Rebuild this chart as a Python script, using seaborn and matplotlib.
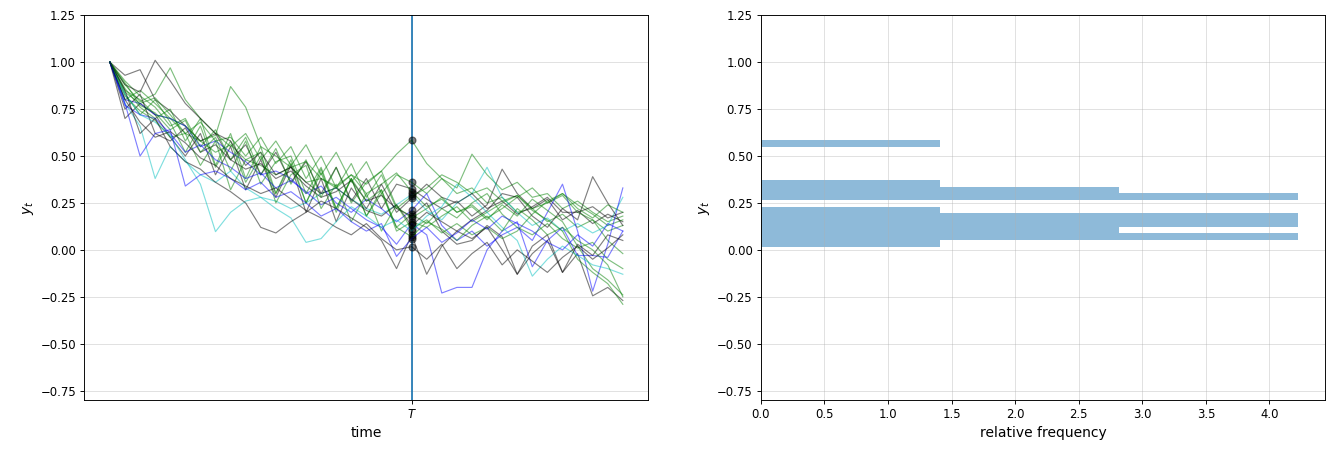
import numpy as np
import matplotlib
matplotlib.use("Agg")
import matplotlib.pyplot as plt
import seaborn as sns

T = 20
time = np.arange(35)

# each path: values for t = 0..34, colour for that path
path_colors = ["g", "g", "k", "g", "c", "g", "k", "b", "g", "k",
               "g", "g", "b", "k", "g", "c", "k", "g", "b", "k"]

paths = [
    [1.00, 0.85, 0.80, 0.72, 0.70, 0.62, 0.58, 0.52, 0.56, 0.48, 0.45, 0.40, 0.44, 0.36, 0.38, 0.33, 0.40, 0.35,
     0.42, 0.51, 0.585, 0.46, 0.38, 0.30, 0.33, 0.25, 0.28, 0.20, 0.22, 0.15, 0.19, 0.12, 0.16, 0.10, 0.13],
    [1.00, 0.88, 0.79, 0.83, 0.97, 0.80, 0.70, 0.62, 0.55, 0.62, 0.48, 0.58, 0.45, 0.56, 0.40, 0.52, 0.36, 0.47,
     0.30, 0.40, 0.36, 0.30, 0.38, 0.33, 0.51, 0.40, 0.32, 0.36, 0.28, 0.30, 0.22, 0.26, 0.20, 0.15, 0.18],
    [1.00, 0.93, 0.96, 0.80, 0.74, 0.66, 0.58, 0.62, 0.48, 0.56, 0.40, 0.52, 0.36, 0.47, 0.30, 0.44, 0.26, 0.38,
     0.22, 0.35, 0.325, 0.27, 0.22, 0.26, 0.18, 0.24, 0.43, 0.30, 0.22, 0.27, 0.16, 0.21, 0.14, 0.19, 0.15],
    [1.00, 0.80, 0.85, 0.78, 0.70, 0.66, 0.58, 0.61, 0.87, 0.76, 0.55, 0.50, 0.44, 0.47, 0.38, 0.34, 0.40, 0.30,
     0.35, 0.41, 0.31, 0.23, 0.27, 0.20, 0.24, 0.17, 0.22, 0.28, 0.33, 0.25, 0.29, 0.20, 0.16, 0.05, -0.02],
    [1.00, 0.78, 0.66, 0.38, 0.55, 0.47, 0.40, 0.36, 0.42, 0.33, 0.28, 0.26, 0.22, 0.25, 0.30, 0.33, 0.27, 0.22,
     0.19, 0.24, 0.295, 0.21, 0.16, 0.25, 0.30, 0.44, 0.28, 0.20, 0.13, 0.17, 0.10, 0.14, 0.09, 0.13, 0.28],
    [1.00, 0.84, 0.78, 0.81, 0.72, 0.62, 0.68, 0.58, 0.60, 0.50, 0.60, 0.46, 0.55, 0.38, 0.50, 0.33, 0.46, 0.28,
     0.40, 0.22, 0.285, 0.33, 0.40, 0.36, 0.30, 0.33, 0.26, 0.29, 0.22, 0.25, 0.30, 0.24, 0.19, 0.13, 0.16],
    [1.00, 0.70, 0.78, 0.72, 0.60, 0.50, 0.62, 0.40, 0.55, 0.32, 0.48, 0.28, 0.45, 0.20, 0.38, 0.15, 0.33, 0.22,
     0.35, 0.20, 0.275, 0.35, 0.28, 0.25, 0.30, 0.22, 0.26, 0.19, 0.23, 0.28, 0.20, 0.20, 0.23, 0.17, 0.20],
    [1.00, 0.80, 0.78, 0.72, 0.70, 0.66, 0.55, 0.58, 0.52, 0.47, 0.40, 0.42, 0.38, 0.30, 0.34, 0.25, 0.20, 0.27,
     0.22, 0.15, 0.21, 0.30, 0.13, 0.05, 0.10, 0.02, 0.08, 0.12, 0.05, 0.20, 0.35, 0.10, -0.22, 0.03, 0.33],
    [1.00, 0.86, 0.76, 0.70, 0.75, 0.58, 0.70, 0.45, 0.62, 0.38, 0.55, 0.30, 0.48, 0.25, 0.43, 0.20, 0.38, 0.18,
     0.30, 0.12, 0.19, 0.14, 0.22, 0.17, 0.25, 0.30, 0.19, 0.12, 0.08, 0.14, 0.06, 0.01, 0.04, -0.05, -0.10],
    [1.00, 0.75, 0.83, 0.62, 0.58, 0.65, 0.52, 0.56, 0.48, 0.43, 0.46, 0.38, 0.42, 0.34, 0.28, 0.31, 0.37, 0.26,
     0.29, 0.22, 0.18, 0.25, 0.10, 0.03, 0.05, 0.13, 0.07, -0.13, 0.02, 0.08, -0.12, -0.02, -0.245, -0.20, -0.27],
    [1.00, 0.90, 0.82, 0.76, 0.66, 0.70, 0.55, 0.64, 0.48, 0.60, 0.40, 0.54, 0.35, 0.48, 0.28, 0.44, 0.25, 0.36,
     0.42, 0.23, 0.17, 0.22, 0.28, 0.20, 0.23, 0.16, 0.24, 0.18, 0.27, 0.21, 0.15, 0.02, -0.10, -0.16, -0.24],
    [1.00, 0.83, 0.72, 0.80, 0.68, 0.52, 0.66, 0.44, 0.58, 0.36, 0.50, 0.30, 0.46, 0.25, 0.41, 0.22, 0.38, 0.18,
     0.32, 0.10, 0.15, 0.12, 0.18, 0.23, 0.15, 0.20, 0.25, 0.29, 0.21, 0.16, 0.10, -0.05, -0.12, -0.18, -0.29],
    [1.00, 0.77, 0.72, 0.70, 0.62, 0.52, 0.56, 0.48, 0.44, 0.38, 0.41, 0.33, 0.37, 0.31, 0.24, 0.28, 0.22, 0.16,
     0.12, 0.03, 0.14, 0.08, -0.23, -0.20, -0.20, 0.00, 0.10, 0.15, -0.09, 0.05, 0.12, -0.03, -0.03, -0.04, 0.10],
    [1.00, 0.88, 0.84, 1.01, 0.90, 0.78, 0.70, 0.62, 0.58, 0.45, 0.52, 0.40, 0.44, 0.36, 0.30, 0.33, 0.27, 0.21,
     0.18, 0.24, 0.13, 0.20, 0.15, 0.10, 0.16, 0.21, 0.30, 0.28, 0.18, 0.12, 0.22, 0.16, 0.39, 0.25, 0.13],
    [1.00, 0.82, 0.74, 0.69, 0.60, 0.62, 0.45, 0.58, 0.32, 0.48, 0.52, 0.25, 0.40, 0.45, 0.22, 0.35, 0.15, 0.30,
     0.10, 0.24, 0.11, 0.16, 0.09, 0.14, 0.08, 0.12, 0.06, 0.10, 0.19, 0.26, 0.30, 0.22, 0.17, 0.24, 0.20],
    [1.00, 0.83, 0.72, 0.68, 0.61, 0.48, 0.35, 0.097, 0.20, 0.26, 0.28, 0.22, 0.17, 0.04, 0.06, 0.15, 0.23, 0.18,
     0.12, 0.16, 0.10, 0.18, 0.23, 0.35, 0.28, 0.20, 0.12, 0.05, -0.14, -0.05, 0.02, -0.03, -0.08, -0.10, -0.13],
    [1.00, 0.85, 0.62, 0.70, 0.55, 0.47, 0.43, 0.36, 0.31, 0.25, 0.12, 0.09, 0.15, 0.20, 0.26, 0.22, 0.17, 0.12,
     0.05, -0.10, 0.08, -0.13, 0.02, 0.10, 0.06, 0.12, 0.00, -0.13, -0.02, 0.05, -0.12, 0.03, -0.03, 0.08, 0.05],
    [1.00, 0.89, 0.77, 0.73, 0.64, 0.69, 0.52, 0.60, 0.42, 0.58, 0.35, 0.47, 0.50, 0.30, 0.44, 0.22, 0.38, 0.26,
     0.32, 0.12, 0.07, 0.15, 0.11, 0.05, 0.13, 0.18, 0.10, 0.22, 0.16, 0.08, 0.12, 0.05, 0.00, -0.08, -0.25],
    [1.00, 0.78, 0.50, 0.62, 0.64, 0.34, 0.40, 0.42, 0.38, 0.32, 0.36, 0.28, 0.31, 0.25, 0.18, 0.22, 0.15, 0.10,
     0.14, -0.035, 0.06, 0.12, 0.04, 0.09, 0.16, 0.11, 0.18, 0.14, 0.10, 0.04, 0.00, 0.08, 0.02, 0.14, 0.10],
    [1.00, 0.80, 0.68, 0.60, 0.63, 0.57, 0.49, 0.45, 0.38, 0.34, 0.30, 0.33, 0.27, 0.21, 0.17, 0.12, 0.08, 0.14,
     0.06, 0.00, 0.017, -0.05, 0.03, -0.10, -0.02, 0.04, -0.08, 0.00, -0.06, -0.12, -0.04, 0.02, -0.05, 0.01, 0.08],
]

dpi = 1333 / 16
fig, axes = plt.subplots(1, 2, figsize=(16, 5.45), dpi=dpi)
fig.subplots_adjust(left=0.0632, right=0.994, top=0.9663, bottom=0.1189, wspace=0.199)

ax = axes[0]
ax.grid(alpha=0.4)
ax.axvline(T)
for path, c in zip(paths, path_colors):
    sns.lineplot(x=time, y=path, color=c, lw=1, alpha=0.5, ax=ax)
    ax.plot(T, path[T], "ko", alpha=0.5)
ax.set_ylim(-0.8, 1.25)
ax.set_xticks((T,))
ax.set_xticklabels(("$T$",))
ax.set_xlabel("time", fontsize=12)
ax.set_ylabel("$y_t$", fontsize=12)

values_at_T = [p[T] for p in paths]
ax = axes[1]
ax.grid(alpha=0.4)
sns.histplot(y=values_at_T, bins=16, stat="density", alpha=0.5, linewidth=0, ax=ax)
ax.set_ylim(-0.8, 1.25)
ax.set_xlabel("relative frequency", fontsize=12)
ax.set_ylabel("$y_t$", fontsize=12)

fig.savefig("out.png", dpi=dpi)
